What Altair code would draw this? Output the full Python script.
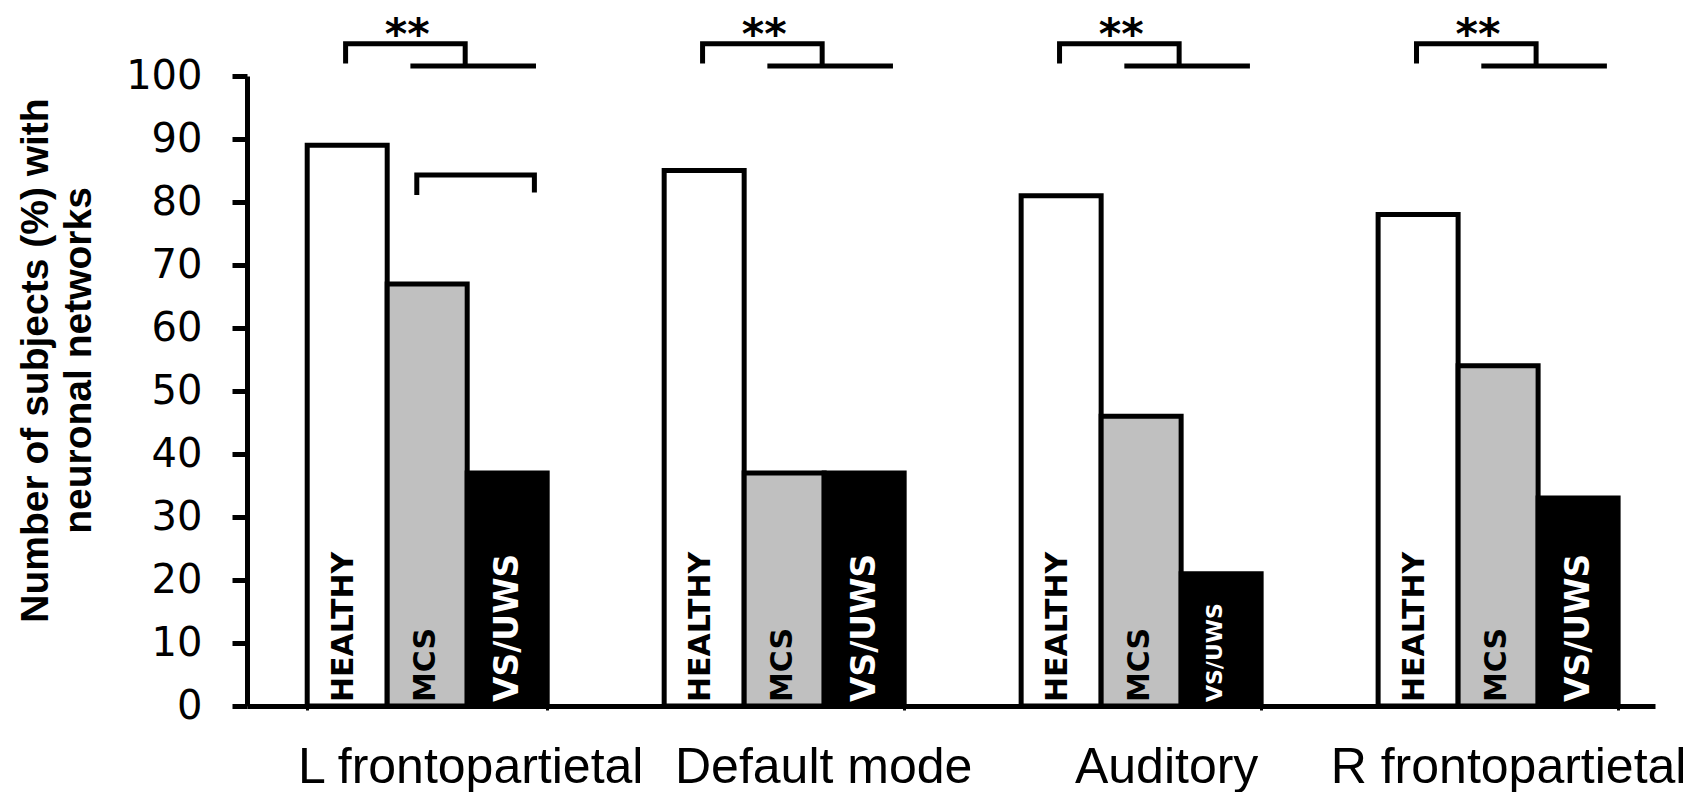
import altair as alt
import pandas as pd

# ---------------- data ----------------
networks = ["L frontopartietal", "Default mode", "Auditory", "R frontopartietal"]
statuses = ["HEALTHY", "MCS", "VS/UWS"]
healthy_pct = [89, 85, 81, 78]
mcs_pct = [67, 37, 46, 54]
vs_uws_pct = [37, 37, 21, 33]
significance = ["**", "**", "**", "**"]
mcs_vs_bracket = ["L frontopartietal"]
y_title = ["Number of subjects (%) with", "neuronal networks"]

# ---------------- layout (annotation geometry / styles) ----------------
# x in bar-slot units inside a group (0..3), y in % units
TOP_BRACKET = [(0.48, 102.0), (0.48, 105.1), (1.975, 105.1), (1.975, 101.6)]
PATIENT_LINE = [(1.29, 101.6), (2.86, 101.6)]
SUB_BRACKET = [(1.37, 81.1), (1.37, 84.3), (2.84, 84.3), (2.84, 81.5)]
STAR_POS = (1.25, 104.3)
X_LABEL_SHIFT = [43, 39, 25, 10]  # px shift of each category label from its group centre

rows = []
for i, n in enumerate(networks):
    for s, vals in zip(statuses, [healthy_pct, mcs_pct, vs_uws_pct]):
        rows.append({"network": n, "status": s, "pct": vals[i]})
bars_df = pd.DataFrame(rows)
bars_df["fs"] = [
    (22 if p < 25 else 33) if s == "VS/UWS" else 30
    for s, p in zip(bars_df["status"], bars_df["pct"])
]
bars_df["xo"] = [statuses.index(s) + 0.5 for s in bars_df["status"]]

br_rows = []
star_rows = []
for i, n in enumerate(networks):
    if significance[i]:
        for k, (xo, yv) in enumerate(TOP_BRACKET):
            br_rows.append({"network": n, "seg": f"{n}-top", "k": k, "xo": xo, "pct": yv})
        for k, (xo, yv) in enumerate(PATIENT_LINE):
            br_rows.append({"network": n, "seg": f"{n}-pat", "k": k, "xo": xo, "pct": yv})
        star_rows.append({"network": n, "xo": STAR_POS[0], "pct": STAR_POS[1], "txt": significance[i]})
    if n in mcs_vs_bracket:
        for k, (xo, yv) in enumerate(SUB_BRACKET):
            br_rows.append({"network": n, "seg": f"{n}-sub", "k": k, "xo": xo, "pct": yv})
br_df = pd.DataFrame(br_rows)
star_df = pd.DataFrame(star_rows)

label_offset_expr = "{}[indexof({}, datum.value)]".format(
    "[" + ",".join(str(v) for v in X_LABEL_SHIFT) + "]",
    "[" + ",".join("'" + n + "'" for n in networks) + "]",
)

# ---------------- encodings ----------------
x_enc = alt.X(
    "network:N",
    sort=networks,
    scale=alt.Scale(paddingInner=0.3277, paddingOuter=0.136, align=0.62),
    axis=alt.Axis(
        title=None, labelAngle=0, labelFont="Liberation Sans", labelFontSize=50,
        labelColor="black", labelOffset={"expr": label_offset_expr},
        labelPadding=72, labelBaseline="alphabetic",
        labelLimit=0, labelOverlap=False,
        domainColor="black", domainWidth=5, ticks=True, tickBand="extent",
        tickSize=4, tickWidth=3, tickColor="black", grid=False,
    ),
)
y_enc = alt.Y(
    "pct:Q",
    scale=alt.Scale(domain=[0, 100], nice=False, zero=True),
    axis=alt.Axis(
        values=list(range(0, 101, 10)), title=y_title,
        titleFont="Liberation Sans", titleFontSize=39, titleFontWeight="bold",
        titleColor="black", titleLineHeight=43, titleAngle=270, titleX=-200, titleY=284,
        titleAlign="center", titleBaseline="alphabetic",
        labelFont="DejaVu Sans", labelFontSize=40, labelColor="black", labelPadding=30,
        tickSize=15, tickWidth=5, tickColor="black", domainColor="black", domainWidth=5,
        grid=False,
    ),
)
xoff_nom = alt.XOffset(
    "status:N", sort=statuses,
    scale=alt.Scale(domain=statuses, paddingInner=0, paddingOuter=0),
)
xoff_q = alt.XOffset("xo:Q", scale=alt.Scale(domain=[0, 3], nice=False, zero=False))

bars = alt.Chart(bars_df).mark_bar(stroke="black", strokeWidth=5).encode(
    x=x_enc,
    xOffset=xoff_nom,
    y=y_enc,
    color=alt.Color(
        "status:N",
        scale=alt.Scale(domain=statuses, range=["white", "#c0c0c0", "black"]),
        legend=None,
    ),
)

label_layers = []
for cond, dy, col in [
    (alt.datum.status == "HEALTHY", 6, "black"),
    (alt.datum.status == "MCS", 8, "black"),
    ((alt.datum.status == "VS/UWS") & (alt.datum.fs > 25), 11, "white"),
    ((alt.datum.status == "VS/UWS") & (alt.datum.fs <= 25), 1, "white"),
]:
    label_layers.append(
        alt.Chart(bars_df)
        .transform_filter(cond)
        .mark_text(angle=270, align="left", baseline="alphabetic", font="DejaVu Sans",
                   fontWeight="bold", dx=4, dy=dy, color=col)
        .encode(
            x=x_enc, xOffset=xoff_q, y=alt.datum(0),
            text="status:N", size=alt.Size("fs:Q", scale=None),
        )
    )

brackets = alt.Chart(br_df).mark_line(
    color="black", strokeWidth=5, strokeCap="butt", strokeJoin="miter"
).encode(
    x=x_enc, xOffset=xoff_q, y=y_enc, detail="seg:N", order="k:Q",
)

stars = alt.Chart(star_df).mark_text(
    font="DejaVu Sans", fontWeight="bold", fontSize=43, baseline="alphabetic",
    align="center", color="black",
).encode(x=x_enc, xOffset=xoff_q, y=y_enc, text="txt:N")

chart = (
    alt.layer(bars, *label_layers, brackets, stars)
    .resolve_scale(xOffset="independent")
    .properties(
        width=1408, height=630,
        autosize=alt.AutoSizeParams(type="none"),
        padding={"left": 239, "top": 68, "right": 37, "bottom": 86},
        background="white",
    )
    .configure_view(stroke=None)
)

chart.save("out.html", embed_options={"renderer": "svg", "actions": False})
